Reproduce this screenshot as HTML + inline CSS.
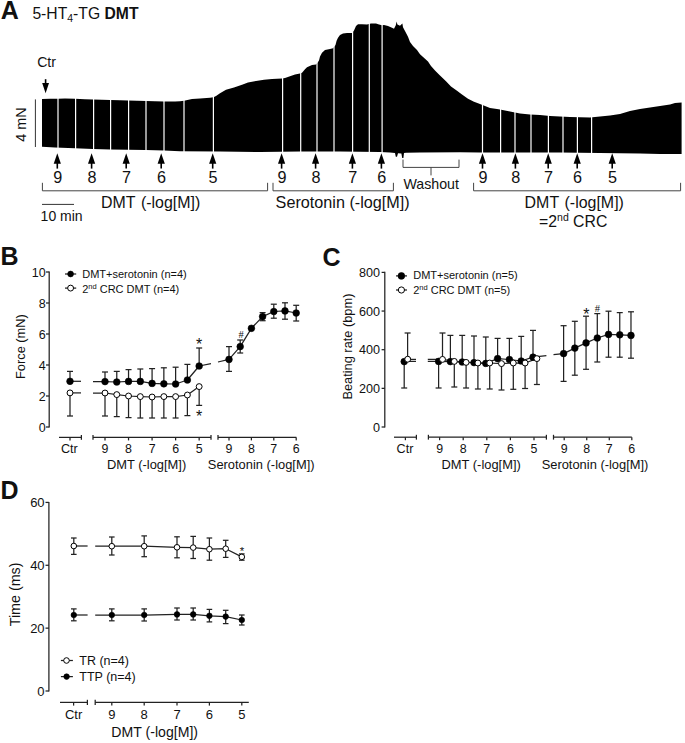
<!DOCTYPE html>
<html><head><meta charset="utf-8"><title>Figure</title>
<style>
html,body{margin:0;padding:0;background:#fff;}
body{width:685px;height:743px;overflow:hidden;}
svg{display:block;font-family:"Liberation Sans", sans-serif;}
text{fill:#111;}
</style></head>
<body>
<svg width="685" height="743" viewBox="0 0 685 743">
<rect width="685" height="743" fill="#fff"/>
<path d="M42,99 L50,98.8 L58,98.8 L65,98.6 L75,98.8 L85,99.2 L93,99.5 L102,99.8 L110,100 L120,100.2 L128,100.5 L137,100.8 L146,101 L155,101.2 L164,101.4 L175,101.5 L180,101.2 L184,100.8 L192,99.1 L200,98.4 L210,97.7 L213.5,97.2 L216,96 L220,93.3 L226,89.8 L234,87.4 L242,84.8 L248,82.5 L256,80.9 L264,79.7 L272,79 L282,78.5 L285,78.1 L290,76.2 L295,74.6 L300,73.4 L302,72.7 L305,69.2 L307,67.3 L312,65 L316,64.5 L318,62 L319,60.6 L320,56.4 L322,52.8 L325,50 L330,48.9 L333,48.2 L335.5,45 L336.6,40.7 L338,37.7 L340,35.1 L343,33.6 L347,33 L352,33 L354,30.4 L356,26 L358,24.3 L362,24.2 L367,24.6 L369,24 L371,23.4 L376,23.4 L379,24.6 L382,25.3 L384,24.9 L388,26 L392,27.8 L394,28.7 L395.8,25.3 L396.6,21.4 L397.4,24.6 L400,25.8 L401.8,24 L402.4,23.6 L403,27.3 L405,31 L408,36.8 L410,41.9 L413,46 L417,49.9 L420,54.3 L425,58.7 L428,61.6 L431,66 L435,70.4 L440,75.5 L446,81.3 L451,86.4 L457,90.8 L462,94.5 L468,98.8 L474,101.8 L480,104 L485,106.1 L490,108 L497,109 L500,109.6 L510,111.4 L520,113.6 L530,114.6 L540,115 L550,116 L560,116.6 L570,117 L580,117.3 L590,117.6 L600,116.6 L610,115.6 L620,114 L630,111 L640,109 L650,107.4 L660,106 L670,104.4 L675,103 L681.6,102.6 L681.6,154 L660,154 L640,153.6 L600,153 L560,152.6 L520,152.6 L480,152.4 L460,152.2 L420,152.6 L406,152.8 L404,153 L403.4,158 L402.2,158 L401.4,153.4 L398,153.2 L397,156.7 L395.8,156.7 L395,153 L390,152.4 L380,152 L340,151.6 L300,151.6 L260,152 L220,151.6 L180,151.2 L164,150.6 L146,150.1 L128,149.7 L110,149.4 L93,149 L75,148.2 L55,147.6 L42,146.8 Z" fill="#000"/>
<line x1="58" y1="18" x2="58" y2="158" stroke="#fff" stroke-width="1.2"/>
<line x1="75.6" y1="18" x2="75.6" y2="158" stroke="#fff" stroke-width="1.2"/>
<line x1="93.6" y1="18" x2="93.6" y2="158" stroke="#fff" stroke-width="1.2"/>
<line x1="110.6" y1="18" x2="110.6" y2="158" stroke="#fff" stroke-width="1.2"/>
<line x1="128.6" y1="18" x2="128.6" y2="158" stroke="#fff" stroke-width="1.2"/>
<line x1="146" y1="18" x2="146" y2="158" stroke="#fff" stroke-width="1.2"/>
<line x1="164" y1="18" x2="164" y2="158" stroke="#fff" stroke-width="1.2"/>
<line x1="184" y1="18" x2="184" y2="158" stroke="#fff" stroke-width="1.2"/>
<line x1="213.4" y1="18" x2="213.4" y2="158" stroke="#fff" stroke-width="1.2"/>
<line x1="282.6" y1="18" x2="282.6" y2="158" stroke="#fff" stroke-width="1.2"/>
<line x1="300.7" y1="18" x2="300.7" y2="158" stroke="#fff" stroke-width="1.2"/>
<line x1="317" y1="18" x2="317" y2="158" stroke="#fff" stroke-width="1.2"/>
<line x1="334" y1="18" x2="334" y2="158" stroke="#fff" stroke-width="1.2"/>
<line x1="352.6" y1="18" x2="352.6" y2="158" stroke="#fff" stroke-width="1.2"/>
<line x1="369.3" y1="18" x2="369.3" y2="158" stroke="#fff" stroke-width="1.2"/>
<line x1="382.1" y1="18" x2="382.1" y2="158" stroke="#fff" stroke-width="1.2"/>
<line x1="482.5" y1="18" x2="482.5" y2="158" stroke="#fff" stroke-width="1.2"/>
<line x1="500.6" y1="18" x2="500.6" y2="158" stroke="#fff" stroke-width="1.2"/>
<line x1="515" y1="18" x2="515" y2="158" stroke="#fff" stroke-width="1.2"/>
<line x1="531" y1="18" x2="531" y2="158" stroke="#fff" stroke-width="1.2"/>
<line x1="548.4" y1="18" x2="548.4" y2="158" stroke="#fff" stroke-width="1.2"/>
<line x1="563" y1="18" x2="563" y2="158" stroke="#fff" stroke-width="1.2"/>
<line x1="577.4" y1="18" x2="577.4" y2="158" stroke="#fff" stroke-width="1.2"/>
<line x1="591.6" y1="18" x2="591.6" y2="158" stroke="#fff" stroke-width="1.2"/>
<line x1="35.4" y1="99.4" x2="35.4" y2="147" stroke="#333" stroke-width="1"/>
<text transform="translate(26.3,124.6) rotate(-90)" font-size="14.4" text-anchor="middle">4 mN</text>
<text x="0.8" y="18.9" font-size="25" text-anchor="start" font-weight="bold" >A</text>
<text x="32.4" y="18.8" font-size="15.7">5-HT<tspan font-size="10.5" dy="3.2">4</tspan><tspan dy="-3.2">-TG </tspan><tspan font-weight="bold">DMT</tspan></text>
<text x="46.6" y="66.8" font-size="14.2" text-anchor="middle" font-weight="normal" >Ctr</text>
<line x1="45.6" y1="79.2" x2="45.6" y2="84" stroke="#000" stroke-width="1.6"/>
<path d="M42.2,83 L49,83 L45.6,93.2 Z" fill="#000"/>
<path d="M57.3,153.2 L60.9,163.8 L53.699999999999996,163.8 Z" fill="#000"/>
<line x1="57.3" y1="162" x2="57.3" y2="168.6" stroke="#000" stroke-width="1.6"/>
<text x="57.699999999999996" y="182.8" font-size="16.2" text-anchor="middle" font-weight="normal" >9</text>
<path d="M91.6,153.2 L95.19999999999999,163.8 L88.0,163.8 Z" fill="#000"/>
<line x1="91.6" y1="162" x2="91.6" y2="168.6" stroke="#000" stroke-width="1.6"/>
<text x="92.0" y="182.8" font-size="16.2" text-anchor="middle" font-weight="normal" >8</text>
<path d="M126.2,153.2 L129.8,163.8 L122.60000000000001,163.8 Z" fill="#000"/>
<line x1="126.2" y1="162" x2="126.2" y2="168.6" stroke="#000" stroke-width="1.6"/>
<text x="126.60000000000001" y="182.8" font-size="16.2" text-anchor="middle" font-weight="normal" >7</text>
<path d="M161.2,153.2 L164.79999999999998,163.8 L157.6,163.8 Z" fill="#000"/>
<line x1="161.2" y1="162" x2="161.2" y2="168.6" stroke="#000" stroke-width="1.6"/>
<text x="161.6" y="182.8" font-size="16.2" text-anchor="middle" font-weight="normal" >6</text>
<path d="M212.7,153.2 L216.29999999999998,163.8 L209.1,163.8 Z" fill="#000"/>
<line x1="212.7" y1="162" x2="212.7" y2="168.6" stroke="#000" stroke-width="1.6"/>
<text x="213.1" y="182.8" font-size="16.2" text-anchor="middle" font-weight="normal" >5</text>
<path d="M281.6,153.2 L285.20000000000005,163.8 L278.0,163.8 Z" fill="#000"/>
<line x1="281.6" y1="162" x2="281.6" y2="168.6" stroke="#000" stroke-width="1.6"/>
<text x="282.0" y="182.8" font-size="16.2" text-anchor="middle" font-weight="normal" >9</text>
<path d="M315.6,153.2 L319.20000000000005,163.8 L312.0,163.8 Z" fill="#000"/>
<line x1="315.6" y1="162" x2="315.6" y2="168.6" stroke="#000" stroke-width="1.6"/>
<text x="316.0" y="182.8" font-size="16.2" text-anchor="middle" font-weight="normal" >8</text>
<path d="M352.4,153.2 L356.0,163.8 L348.79999999999995,163.8 Z" fill="#000"/>
<line x1="352.4" y1="162" x2="352.4" y2="168.6" stroke="#000" stroke-width="1.6"/>
<text x="352.79999999999995" y="182.8" font-size="16.2" text-anchor="middle" font-weight="normal" >7</text>
<path d="M381.4,153.2 L385.0,163.8 L377.79999999999995,163.8 Z" fill="#000"/>
<line x1="381.4" y1="162" x2="381.4" y2="168.6" stroke="#000" stroke-width="1.6"/>
<text x="381.79999999999995" y="182.8" font-size="16.2" text-anchor="middle" font-weight="normal" >6</text>
<path d="M482.5,153.2 L486.1,163.8 L478.9,163.8 Z" fill="#000"/>
<line x1="482.5" y1="162" x2="482.5" y2="168.6" stroke="#000" stroke-width="1.6"/>
<text x="482.9" y="182.8" font-size="16.2" text-anchor="middle" font-weight="normal" >9</text>
<path d="M515.4,153.2 L519.0,163.8 L511.79999999999995,163.8 Z" fill="#000"/>
<line x1="515.4" y1="162" x2="515.4" y2="168.6" stroke="#000" stroke-width="1.6"/>
<text x="515.8" y="182.8" font-size="16.2" text-anchor="middle" font-weight="normal" >8</text>
<path d="M548.2,153.2 L551.8000000000001,163.8 L544.6,163.8 Z" fill="#000"/>
<line x1="548.2" y1="162" x2="548.2" y2="168.6" stroke="#000" stroke-width="1.6"/>
<text x="548.6" y="182.8" font-size="16.2" text-anchor="middle" font-weight="normal" >7</text>
<path d="M577.2,153.2 L580.8000000000001,163.8 L573.6,163.8 Z" fill="#000"/>
<line x1="577.2" y1="162" x2="577.2" y2="168.6" stroke="#000" stroke-width="1.6"/>
<text x="577.6" y="182.8" font-size="16.2" text-anchor="middle" font-weight="normal" >6</text>
<path d="M612.2,153.2 L615.8000000000001,163.8 L608.6,163.8 Z" fill="#000"/>
<line x1="612.2" y1="162" x2="612.2" y2="168.6" stroke="#000" stroke-width="1.6"/>
<text x="612.6" y="182.8" font-size="16.2" text-anchor="middle" font-weight="normal" >5</text>
<polyline points="42.4,182.8 42.4,190.8 267.6,190.8 267.6,182.8" fill="none" stroke="#444" stroke-width="1" stroke-linejoin="round"/>
<polyline points="273,182.8 273,190.8 393.4,190.8 393.4,182.8" fill="none" stroke="#444" stroke-width="1" stroke-linejoin="round"/>
<polyline points="473.6,182.8 473.6,190.8 680.6,190.8 680.6,182.8" fill="none" stroke="#444" stroke-width="1" stroke-linejoin="round"/>
<polyline points="403,159.6 403,167.4 459,167.4 459,159.6" fill="none" stroke="#444" stroke-width="1" stroke-linejoin="round"/>
<line x1="431" y1="167.4" x2="431" y2="175.4" stroke="#444" stroke-width="1"/>
<text x="431.2" y="188.6" font-size="14.2" text-anchor="middle" font-weight="normal" >Washout</text>
<text x="101" y="208.2" font-size="15.95" text-anchor="start" font-weight="normal" word-spacing="1.3">DMT (-log[M])</text>
<text x="275.6" y="208" font-size="16.2" text-anchor="start" font-weight="normal" >Serotonin (-log[M])</text>
<text x="524.6" y="208.2" font-size="15.95" text-anchor="start" font-weight="normal" word-spacing="1.3">DMT (-log[M])</text>
<text x="573.2" y="226.6" font-size="15.8" text-anchor="middle">=2<tspan font-size="10.5" dy="-5.5">nd</tspan><tspan dy="5.5"> CRC</tspan></text>
<line x1="42" y1="204.4" x2="74" y2="204.4" stroke="#333" stroke-width="1"/>
<text x="40.6" y="221.4" font-size="14" text-anchor="start" font-weight="normal" >10 min</text>
<text x="0.6" y="265.4" font-size="25" text-anchor="start" font-weight="bold" >B</text>
<line x1="49.2" y1="271.5" x2="49.2" y2="427.5" stroke="#222" stroke-width="1.25"/>
<line x1="46.0" y1="427.0" x2="49.2" y2="427.0" stroke="#222" stroke-width="1.25"/>
<text x="45.6" y="431.7" font-size="12.5" text-anchor="end" font-weight="normal" >0</text>
<line x1="46.0" y1="396.0" x2="49.2" y2="396.0" stroke="#222" stroke-width="1.25"/>
<text x="45.6" y="400.7" font-size="12.5" text-anchor="end" font-weight="normal" >2</text>
<line x1="46.0" y1="365.0" x2="49.2" y2="365.0" stroke="#222" stroke-width="1.25"/>
<text x="45.6" y="369.7" font-size="12.5" text-anchor="end" font-weight="normal" >4</text>
<line x1="46.0" y1="334.0" x2="49.2" y2="334.0" stroke="#222" stroke-width="1.25"/>
<text x="45.6" y="338.7" font-size="12.5" text-anchor="end" font-weight="normal" >6</text>
<line x1="46.0" y1="303.0" x2="49.2" y2="303.0" stroke="#222" stroke-width="1.25"/>
<text x="45.6" y="307.7" font-size="12.5" text-anchor="end" font-weight="normal" >8</text>
<line x1="46.0" y1="272.0" x2="49.2" y2="272.0" stroke="#222" stroke-width="1.25"/>
<text x="45.6" y="276.7" font-size="12.5" text-anchor="end" font-weight="normal" >10</text>
<text transform="translate(25,346.6) rotate(-90)" font-size="12.8" text-anchor="middle">Force (mN)</text>
<line x1="59" y1="437.4" x2="81.4" y2="437.4" stroke="#222" stroke-width="1.25"/>
<line x1="81.4" y1="435.0" x2="81.4" y2="439.79999999999995" stroke="#222" stroke-width="1.25"/>
<line x1="70" y1="437.4" x2="70" y2="440.4" stroke="#222" stroke-width="1.25"/>
<line x1="93" y1="437.4" x2="211" y2="437.4" stroke="#222" stroke-width="1.25"/>
<line x1="93" y1="435.0" x2="93" y2="439.79999999999995" stroke="#222" stroke-width="1.25"/>
<line x1="211" y1="435.0" x2="211" y2="439.79999999999995" stroke="#222" stroke-width="1.25"/>
<line x1="218" y1="437.4" x2="296.4" y2="437.4" stroke="#222" stroke-width="1.25"/>
<line x1="218" y1="435.0" x2="218" y2="439.79999999999995" stroke="#222" stroke-width="1.25"/>
<line x1="105.0" y1="437.4" x2="105.0" y2="440.4" stroke="#222" stroke-width="1.25"/>
<line x1="128.54" y1="437.4" x2="128.54" y2="440.4" stroke="#222" stroke-width="1.25"/>
<line x1="152.07999999999998" y1="437.4" x2="152.07999999999998" y2="440.4" stroke="#222" stroke-width="1.25"/>
<line x1="175.62" y1="437.4" x2="175.62" y2="440.4" stroke="#222" stroke-width="1.25"/>
<line x1="199.16" y1="437.4" x2="199.16" y2="440.4" stroke="#222" stroke-width="1.25"/>
<line x1="229.0" y1="437.4" x2="229.0" y2="440.4" stroke="#222" stroke-width="1.25"/>
<line x1="251.4" y1="437.4" x2="251.4" y2="440.4" stroke="#222" stroke-width="1.25"/>
<line x1="273.8" y1="437.4" x2="273.8" y2="440.4" stroke="#222" stroke-width="1.25"/>
<line x1="296.2" y1="437.4" x2="296.2" y2="440.4" stroke="#222" stroke-width="1.25"/>
<text x="69.4" y="453.2" font-size="12.6" text-anchor="middle" font-weight="normal" >Ctr</text>
<text x="105.0" y="453.2" font-size="12.4" text-anchor="middle" font-weight="normal" >9</text>
<text x="128.54" y="453.2" font-size="12.4" text-anchor="middle" font-weight="normal" >8</text>
<text x="152.07999999999998" y="453.2" font-size="12.4" text-anchor="middle" font-weight="normal" >7</text>
<text x="175.62" y="453.2" font-size="12.4" text-anchor="middle" font-weight="normal" >6</text>
<text x="199.16" y="453.2" font-size="12.4" text-anchor="middle" font-weight="normal" >5</text>
<text x="229.0" y="453.2" font-size="12.4" text-anchor="middle" font-weight="normal" >9</text>
<text x="251.4" y="453.2" font-size="12.4" text-anchor="middle" font-weight="normal" >8</text>
<text x="273.8" y="453.2" font-size="12.4" text-anchor="middle" font-weight="normal" >7</text>
<text x="296.2" y="453.2" font-size="12.4" text-anchor="middle" font-weight="normal" >6</text>
<text x="146.6" y="468.6" font-size="12.9" text-anchor="middle" font-weight="normal" >DMT (-log[M])</text>
<text x="261.2" y="468.6" font-size="12.9" text-anchor="middle" font-weight="normal" >Serotonin (-log[M])</text>
<line x1="70" y1="371.4" x2="70" y2="381.3" stroke="#222" stroke-width="1.25"/>
<line x1="67.0" y1="371.4" x2="73.0" y2="371.4" stroke="#222" stroke-width="1.25"/>
<line x1="70" y1="392.9" x2="70" y2="416" stroke="#222" stroke-width="1.25"/>
<line x1="67.0" y1="416" x2="73.0" y2="416" stroke="#222" stroke-width="1.25"/>
<line x1="105.0" y1="372" x2="105.0" y2="381.6" stroke="#222" stroke-width="1.25"/>
<line x1="102.0" y1="372" x2="108.0" y2="372" stroke="#222" stroke-width="1.25"/>
<line x1="116.77" y1="371.4" x2="116.77" y2="382" stroke="#222" stroke-width="1.25"/>
<line x1="113.77" y1="371.4" x2="119.77" y2="371.4" stroke="#222" stroke-width="1.25"/>
<line x1="128.54" y1="369.6" x2="128.54" y2="381.4" stroke="#222" stroke-width="1.25"/>
<line x1="125.53999999999999" y1="369.6" x2="131.54" y2="369.6" stroke="#222" stroke-width="1.25"/>
<line x1="140.31" y1="369" x2="140.31" y2="381.4" stroke="#222" stroke-width="1.25"/>
<line x1="137.31" y1="369" x2="143.31" y2="369" stroke="#222" stroke-width="1.25"/>
<line x1="152.07999999999998" y1="368.6" x2="152.07999999999998" y2="383.4" stroke="#222" stroke-width="1.25"/>
<line x1="149.07999999999998" y1="368.6" x2="155.07999999999998" y2="368.6" stroke="#222" stroke-width="1.25"/>
<line x1="163.85" y1="367.8" x2="163.85" y2="383.8" stroke="#222" stroke-width="1.25"/>
<line x1="160.85" y1="367.8" x2="166.85" y2="367.8" stroke="#222" stroke-width="1.25"/>
<line x1="175.62" y1="367.2" x2="175.62" y2="384" stroke="#222" stroke-width="1.25"/>
<line x1="172.62" y1="367.2" x2="178.62" y2="367.2" stroke="#222" stroke-width="1.25"/>
<line x1="187.39" y1="364.4" x2="187.39" y2="380" stroke="#222" stroke-width="1.25"/>
<line x1="184.39" y1="364.4" x2="190.39" y2="364.4" stroke="#222" stroke-width="1.25"/>
<line x1="199.16" y1="348" x2="199.16" y2="366" stroke="#222" stroke-width="1.25"/>
<line x1="196.16" y1="348" x2="202.16" y2="348" stroke="#222" stroke-width="1.25"/>
<line x1="105.0" y1="393" x2="105.0" y2="416" stroke="#222" stroke-width="1.25"/>
<line x1="102.0" y1="416" x2="108.0" y2="416" stroke="#222" stroke-width="1.25"/>
<line x1="116.77" y1="394.6" x2="116.77" y2="416.6" stroke="#222" stroke-width="1.25"/>
<line x1="113.77" y1="416.6" x2="119.77" y2="416.6" stroke="#222" stroke-width="1.25"/>
<line x1="128.54" y1="396" x2="128.54" y2="417.6" stroke="#222" stroke-width="1.25"/>
<line x1="125.53999999999999" y1="417.6" x2="131.54" y2="417.6" stroke="#222" stroke-width="1.25"/>
<line x1="140.31" y1="396.6" x2="140.31" y2="418" stroke="#222" stroke-width="1.25"/>
<line x1="137.31" y1="418" x2="143.31" y2="418" stroke="#222" stroke-width="1.25"/>
<line x1="152.07999999999998" y1="397" x2="152.07999999999998" y2="418" stroke="#222" stroke-width="1.25"/>
<line x1="149.07999999999998" y1="418" x2="155.07999999999998" y2="418" stroke="#222" stroke-width="1.25"/>
<line x1="163.85" y1="396.6" x2="163.85" y2="418" stroke="#222" stroke-width="1.25"/>
<line x1="160.85" y1="418" x2="166.85" y2="418" stroke="#222" stroke-width="1.25"/>
<line x1="175.62" y1="396.6" x2="175.62" y2="418" stroke="#222" stroke-width="1.25"/>
<line x1="172.62" y1="418" x2="178.62" y2="418" stroke="#222" stroke-width="1.25"/>
<line x1="187.39" y1="395" x2="187.39" y2="415.6" stroke="#222" stroke-width="1.25"/>
<line x1="184.39" y1="415.6" x2="190.39" y2="415.6" stroke="#222" stroke-width="1.25"/>
<line x1="199.16" y1="386.6" x2="199.16" y2="405.4" stroke="#222" stroke-width="1.25"/>
<line x1="196.16" y1="405.4" x2="202.16" y2="405.4" stroke="#222" stroke-width="1.25"/>
<line x1="229.0" y1="346.6" x2="229.0" y2="371.4" stroke="#222" stroke-width="1.25"/>
<line x1="226.0" y1="346.6" x2="232.0" y2="346.6" stroke="#222" stroke-width="1.25"/>
<line x1="226.0" y1="371.4" x2="232.0" y2="371.4" stroke="#222" stroke-width="1.25"/>
<line x1="240.2" y1="340" x2="240.2" y2="353" stroke="#222" stroke-width="1.25"/>
<line x1="237.2" y1="340" x2="243.2" y2="340" stroke="#222" stroke-width="1.25"/>
<line x1="237.2" y1="353" x2="243.2" y2="353" stroke="#222" stroke-width="1.25"/>
<line x1="262.6" y1="312.6" x2="262.6" y2="320.7" stroke="#222" stroke-width="1.25"/>
<line x1="259.6" y1="312.6" x2="265.6" y2="312.6" stroke="#222" stroke-width="1.25"/>
<line x1="259.6" y1="320.7" x2="265.6" y2="320.7" stroke="#222" stroke-width="1.25"/>
<line x1="273.8" y1="304.2" x2="273.8" y2="318.2" stroke="#222" stroke-width="1.25"/>
<line x1="270.8" y1="304.2" x2="276.8" y2="304.2" stroke="#222" stroke-width="1.25"/>
<line x1="270.8" y1="318.2" x2="276.8" y2="318.2" stroke="#222" stroke-width="1.25"/>
<line x1="285.0" y1="302.8" x2="285.0" y2="319.2" stroke="#222" stroke-width="1.25"/>
<line x1="282.0" y1="302.8" x2="288.0" y2="302.8" stroke="#222" stroke-width="1.25"/>
<line x1="282.0" y1="319.2" x2="288.0" y2="319.2" stroke="#222" stroke-width="1.25"/>
<line x1="296.2" y1="305.3" x2="296.2" y2="321" stroke="#222" stroke-width="1.25"/>
<line x1="293.2" y1="305.3" x2="299.2" y2="305.3" stroke="#222" stroke-width="1.25"/>
<line x1="293.2" y1="321" x2="299.2" y2="321" stroke="#222" stroke-width="1.25"/>
<polyline points="70,381.3 81,381.3" fill="none" stroke="#222" stroke-width="1.25" stroke-linejoin="round"/>
<polyline points="70,392.9 81,392.9" fill="none" stroke="#222" stroke-width="1.25" stroke-linejoin="round"/>
<polyline points="93,381.6 105.0,381.6 116.77,382 128.54,381.4 140.31,381.4 152.07999999999998,383.4 163.85,383.8 175.62,384 187.39,380 199.16,366 211,363.6" fill="none" stroke="#222" stroke-width="1.25" stroke-linejoin="round"/>
<polyline points="93,393 105.0,393 116.77,394.6 128.54,396 140.31,396.6 152.07999999999998,397 163.85,396.6 175.62,396.6 187.39,395 199.16,386.6" fill="none" stroke="#222" stroke-width="1.25" stroke-linejoin="round"/>
<polyline points="218,362 229.0,359.4 240.2,346.6 251.4,328.3 262.6,316.6 273.8,311.5 285.0,310.9 296.2,313" fill="none" stroke="#222" stroke-width="1.25" stroke-linejoin="round"/>
<circle cx="70" cy="381.3" r="3.35" fill="#000" stroke="#000" stroke-width="0.6"/>
<circle cx="70" cy="392.9" r="2.95" fill="#fff" stroke="#000" stroke-width="1"/>
<circle cx="105.0" cy="381.6" r="3.35" fill="#000" stroke="#000" stroke-width="0.6"/>
<circle cx="116.77" cy="382" r="3.35" fill="#000" stroke="#000" stroke-width="0.6"/>
<circle cx="128.54" cy="381.4" r="3.35" fill="#000" stroke="#000" stroke-width="0.6"/>
<circle cx="140.31" cy="381.4" r="3.35" fill="#000" stroke="#000" stroke-width="0.6"/>
<circle cx="152.07999999999998" cy="383.4" r="3.35" fill="#000" stroke="#000" stroke-width="0.6"/>
<circle cx="163.85" cy="383.8" r="3.35" fill="#000" stroke="#000" stroke-width="0.6"/>
<circle cx="175.62" cy="384" r="3.35" fill="#000" stroke="#000" stroke-width="0.6"/>
<circle cx="187.39" cy="380" r="3.35" fill="#000" stroke="#000" stroke-width="0.6"/>
<circle cx="199.16" cy="366" r="3.35" fill="#000" stroke="#000" stroke-width="0.6"/>
<circle cx="105.0" cy="393" r="2.95" fill="#fff" stroke="#000" stroke-width="1"/>
<circle cx="116.77" cy="394.6" r="2.95" fill="#fff" stroke="#000" stroke-width="1"/>
<circle cx="128.54" cy="396" r="2.95" fill="#fff" stroke="#000" stroke-width="1"/>
<circle cx="140.31" cy="396.6" r="2.95" fill="#fff" stroke="#000" stroke-width="1"/>
<circle cx="152.07999999999998" cy="397" r="2.95" fill="#fff" stroke="#000" stroke-width="1"/>
<circle cx="163.85" cy="396.6" r="2.95" fill="#fff" stroke="#000" stroke-width="1"/>
<circle cx="175.62" cy="396.6" r="2.95" fill="#fff" stroke="#000" stroke-width="1"/>
<circle cx="187.39" cy="395" r="2.95" fill="#fff" stroke="#000" stroke-width="1"/>
<circle cx="199.16" cy="386.6" r="2.95" fill="#fff" stroke="#000" stroke-width="1"/>
<circle cx="229.0" cy="359.4" r="3.35" fill="#000" stroke="#000" stroke-width="0.6"/>
<circle cx="240.2" cy="346.6" r="3.35" fill="#000" stroke="#000" stroke-width="0.6"/>
<circle cx="251.4" cy="328.3" r="3.35" fill="#000" stroke="#000" stroke-width="0.6"/>
<circle cx="262.6" cy="316.6" r="3.35" fill="#000" stroke="#000" stroke-width="0.6"/>
<circle cx="273.8" cy="311.5" r="3.35" fill="#000" stroke="#000" stroke-width="0.6"/>
<circle cx="285.0" cy="310.9" r="3.35" fill="#000" stroke="#000" stroke-width="0.6"/>
<circle cx="296.2" cy="313" r="3.35" fill="#000" stroke="#000" stroke-width="0.6"/>
<text x="199.2" y="350.2" font-size="16" text-anchor="middle" font-weight="normal" >*</text>
<text x="199.2" y="421.8" font-size="16" text-anchor="middle" font-weight="normal" >*</text>
<text x="241.2" y="337.6" font-size="10.5" text-anchor="middle" font-family="Liberation Serif">#</text>
<line x1="65" y1="274.0" x2="76.2" y2="274.0" stroke="#222" stroke-width="1.25"/>
<circle cx="70.6" cy="274.0" r="2.9" fill="#000" stroke="#000" stroke-width="0.6"/>
<line x1="65" y1="288.1" x2="76.2" y2="288.1" stroke="#222" stroke-width="1.25"/>
<circle cx="70.6" cy="288.1" r="2.95" fill="#fff" stroke="#000" stroke-width="1"/>
<text x="82.2" y="278.4" font-size="11" text-anchor="start" font-weight="normal" >DMT+serotonin (n=4)</text>
<text x="82.2" y="292.6" font-size="11">2<tspan font-size="7.5" dy="-4">nd</tspan><tspan dy="4"> CRC DMT (n=4)</tspan></text>
<text x="322.6" y="265.6" font-size="25" text-anchor="start" font-weight="bold" >C</text>
<line x1="384.8" y1="271.8" x2="384.8" y2="427.5" stroke="#222" stroke-width="1.25"/>
<line x1="381.6" y1="427.0" x2="384.8" y2="427.0" stroke="#222" stroke-width="1.25"/>
<text x="380.0" y="431.7" font-size="12.6" text-anchor="end" font-weight="normal" >0</text>
<line x1="381.6" y1="388.35" x2="384.8" y2="388.35" stroke="#222" stroke-width="1.25"/>
<text x="380.0" y="393.05" font-size="12.6" text-anchor="end" font-weight="normal" >200</text>
<line x1="381.6" y1="349.7" x2="384.8" y2="349.7" stroke="#222" stroke-width="1.25"/>
<text x="380.0" y="354.4" font-size="12.6" text-anchor="end" font-weight="normal" >400</text>
<line x1="381.6" y1="311.05" x2="384.8" y2="311.05" stroke="#222" stroke-width="1.25"/>
<text x="380.0" y="315.75" font-size="12.6" text-anchor="end" font-weight="normal" >600</text>
<line x1="381.6" y1="272.4" x2="384.8" y2="272.4" stroke="#222" stroke-width="1.25"/>
<text x="380.0" y="277.09999999999997" font-size="12.6" text-anchor="end" font-weight="normal" >800</text>
<text transform="translate(352.4,346.6) rotate(-90)" font-size="12.8" text-anchor="middle">Beating rate (bpm)</text>
<line x1="394" y1="437.2" x2="416.4" y2="437.2" stroke="#222" stroke-width="1.25"/>
<line x1="416.4" y1="434.8" x2="416.4" y2="439.59999999999997" stroke="#222" stroke-width="1.25"/>
<line x1="405.4" y1="437.2" x2="405.4" y2="440.2" stroke="#222" stroke-width="1.25"/>
<line x1="428.4" y1="437.2" x2="546.4" y2="437.2" stroke="#222" stroke-width="1.25"/>
<line x1="428.4" y1="434.8" x2="428.4" y2="439.59999999999997" stroke="#222" stroke-width="1.25"/>
<line x1="546.4" y1="434.8" x2="546.4" y2="439.59999999999997" stroke="#222" stroke-width="1.25"/>
<line x1="553.5" y1="437.2" x2="631.8" y2="437.2" stroke="#222" stroke-width="1.25"/>
<line x1="553.5" y1="434.8" x2="553.5" y2="439.59999999999997" stroke="#222" stroke-width="1.25"/>
<line x1="439.6" y1="437.2" x2="439.6" y2="440.2" stroke="#222" stroke-width="1.25"/>
<line x1="463.20000000000005" y1="437.2" x2="463.20000000000005" y2="440.2" stroke="#222" stroke-width="1.25"/>
<line x1="486.8" y1="437.2" x2="486.8" y2="440.2" stroke="#222" stroke-width="1.25"/>
<line x1="510.40000000000003" y1="437.2" x2="510.40000000000003" y2="440.2" stroke="#222" stroke-width="1.25"/>
<line x1="534.0" y1="437.2" x2="534.0" y2="440.2" stroke="#222" stroke-width="1.25"/>
<line x1="564.2" y1="437.2" x2="564.2" y2="440.2" stroke="#222" stroke-width="1.25"/>
<line x1="586.74" y1="437.2" x2="586.74" y2="440.2" stroke="#222" stroke-width="1.25"/>
<line x1="609.2800000000001" y1="437.2" x2="609.2800000000001" y2="440.2" stroke="#222" stroke-width="1.25"/>
<line x1="631.82" y1="437.2" x2="631.82" y2="440.2" stroke="#222" stroke-width="1.25"/>
<text x="405" y="453.2" font-size="12.6" text-anchor="middle" font-weight="normal" >Ctr</text>
<text x="439.6" y="453.2" font-size="12.4" text-anchor="middle" font-weight="normal" >9</text>
<text x="463.20000000000005" y="453.2" font-size="12.4" text-anchor="middle" font-weight="normal" >8</text>
<text x="486.8" y="453.2" font-size="12.4" text-anchor="middle" font-weight="normal" >7</text>
<text x="510.40000000000003" y="453.2" font-size="12.4" text-anchor="middle" font-weight="normal" >6</text>
<text x="534.0" y="453.2" font-size="12.4" text-anchor="middle" font-weight="normal" >5</text>
<text x="564.2" y="453.2" font-size="12.4" text-anchor="middle" font-weight="normal" >9</text>
<text x="586.74" y="453.2" font-size="12.4" text-anchor="middle" font-weight="normal" >8</text>
<text x="609.2800000000001" y="453.2" font-size="12.4" text-anchor="middle" font-weight="normal" >7</text>
<text x="631.82" y="453.2" font-size="12.4" text-anchor="middle" font-weight="normal" >6</text>
<text x="481.2" y="468.6" font-size="12.9" text-anchor="middle" font-weight="normal" >DMT (-log[M])</text>
<text x="595.0" y="468.6" font-size="12.9" text-anchor="middle" font-weight="normal" >Serotonin (-log[M])</text>
<line x1="404.2" y1="361.6" x2="404.2" y2="388" stroke="#222" stroke-width="1.25"/>
<line x1="401.2" y1="388" x2="407.2" y2="388" stroke="#222" stroke-width="1.25"/>
<line x1="407.6" y1="333" x2="407.6" y2="359.2" stroke="#222" stroke-width="1.25"/>
<line x1="404.6" y1="333" x2="410.6" y2="333" stroke="#222" stroke-width="1.25"/>
<line x1="438.6" y1="361.4" x2="438.6" y2="388" stroke="#222" stroke-width="1.25"/>
<line x1="435.6" y1="388" x2="441.6" y2="388" stroke="#222" stroke-width="1.25"/>
<line x1="450.40000000000003" y1="335.4" x2="450.40000000000003" y2="361.6" stroke="#222" stroke-width="1.25"/>
<line x1="447.40000000000003" y1="335.4" x2="453.40000000000003" y2="335.4" stroke="#222" stroke-width="1.25"/>
<line x1="462.20000000000005" y1="335.4" x2="462.20000000000005" y2="362" stroke="#222" stroke-width="1.25"/>
<line x1="459.20000000000005" y1="335.4" x2="465.20000000000005" y2="335.4" stroke="#222" stroke-width="1.25"/>
<line x1="474.0" y1="336" x2="474.0" y2="362.6" stroke="#222" stroke-width="1.25"/>
<line x1="471.0" y1="336" x2="477.0" y2="336" stroke="#222" stroke-width="1.25"/>
<line x1="485.8" y1="337" x2="485.8" y2="363.4" stroke="#222" stroke-width="1.25"/>
<line x1="482.8" y1="337" x2="488.8" y2="337" stroke="#222" stroke-width="1.25"/>
<line x1="497.6" y1="338.4" x2="497.6" y2="358.6" stroke="#222" stroke-width="1.25"/>
<line x1="494.6" y1="338.4" x2="500.6" y2="338.4" stroke="#222" stroke-width="1.25"/>
<line x1="509.40000000000003" y1="338.4" x2="509.40000000000003" y2="359.5" stroke="#222" stroke-width="1.25"/>
<line x1="506.40000000000003" y1="338.4" x2="512.4000000000001" y2="338.4" stroke="#222" stroke-width="1.25"/>
<line x1="521.2" y1="336.4" x2="521.2" y2="361" stroke="#222" stroke-width="1.25"/>
<line x1="518.2" y1="336.4" x2="524.2" y2="336.4" stroke="#222" stroke-width="1.25"/>
<line x1="533.0" y1="330.4" x2="533.0" y2="357.2" stroke="#222" stroke-width="1.25"/>
<line x1="530.0" y1="330.4" x2="536.0" y2="330.4" stroke="#222" stroke-width="1.25"/>
<line x1="442.5" y1="333" x2="442.5" y2="359.4" stroke="#222" stroke-width="1.25"/>
<line x1="439.5" y1="333" x2="445.5" y2="333" stroke="#222" stroke-width="1.25"/>
<line x1="454.3" y1="361.4" x2="454.3" y2="387" stroke="#222" stroke-width="1.25"/>
<line x1="451.3" y1="387" x2="457.3" y2="387" stroke="#222" stroke-width="1.25"/>
<line x1="466.1" y1="362.4" x2="466.1" y2="388" stroke="#222" stroke-width="1.25"/>
<line x1="463.1" y1="388" x2="469.1" y2="388" stroke="#222" stroke-width="1.25"/>
<line x1="477.9" y1="363" x2="477.9" y2="389" stroke="#222" stroke-width="1.25"/>
<line x1="474.9" y1="389" x2="480.9" y2="389" stroke="#222" stroke-width="1.25"/>
<line x1="489.7" y1="363" x2="489.7" y2="389" stroke="#222" stroke-width="1.25"/>
<line x1="486.7" y1="389" x2="492.7" y2="389" stroke="#222" stroke-width="1.25"/>
<line x1="501.5" y1="363.6" x2="501.5" y2="390" stroke="#222" stroke-width="1.25"/>
<line x1="498.5" y1="390" x2="504.5" y2="390" stroke="#222" stroke-width="1.25"/>
<line x1="513.3" y1="363" x2="513.3" y2="389.3" stroke="#222" stroke-width="1.25"/>
<line x1="510.29999999999995" y1="389.3" x2="516.3" y2="389.3" stroke="#222" stroke-width="1.25"/>
<line x1="525.1" y1="363" x2="525.1" y2="388.5" stroke="#222" stroke-width="1.25"/>
<line x1="522.1" y1="388.5" x2="528.1" y2="388.5" stroke="#222" stroke-width="1.25"/>
<line x1="536.9" y1="358.6" x2="536.9" y2="384.5" stroke="#222" stroke-width="1.25"/>
<line x1="533.9" y1="384.5" x2="539.9" y2="384.5" stroke="#222" stroke-width="1.25"/>
<line x1="563.6" y1="325.7" x2="563.6" y2="381.4" stroke="#222" stroke-width="1.25"/>
<line x1="560.6" y1="325.7" x2="566.6" y2="325.7" stroke="#222" stroke-width="1.25"/>
<line x1="560.6" y1="381.4" x2="566.6" y2="381.4" stroke="#222" stroke-width="1.25"/>
<line x1="574.83" y1="321.3" x2="574.83" y2="375.2" stroke="#222" stroke-width="1.25"/>
<line x1="571.83" y1="321.3" x2="577.83" y2="321.3" stroke="#222" stroke-width="1.25"/>
<line x1="571.83" y1="375.2" x2="577.83" y2="375.2" stroke="#222" stroke-width="1.25"/>
<line x1="586.0600000000001" y1="316.2" x2="586.0600000000001" y2="369.3" stroke="#222" stroke-width="1.25"/>
<line x1="583.0600000000001" y1="316.2" x2="589.0600000000001" y2="316.2" stroke="#222" stroke-width="1.25"/>
<line x1="583.0600000000001" y1="369.3" x2="589.0600000000001" y2="369.3" stroke="#222" stroke-width="1.25"/>
<line x1="597.29" y1="313.6" x2="597.29" y2="362" stroke="#222" stroke-width="1.25"/>
<line x1="594.29" y1="313.6" x2="600.29" y2="313.6" stroke="#222" stroke-width="1.25"/>
<line x1="594.29" y1="362" x2="600.29" y2="362" stroke="#222" stroke-width="1.25"/>
<line x1="608.52" y1="311.2" x2="608.52" y2="357.2" stroke="#222" stroke-width="1.25"/>
<line x1="605.52" y1="311.2" x2="611.52" y2="311.2" stroke="#222" stroke-width="1.25"/>
<line x1="605.52" y1="357.2" x2="611.52" y2="357.2" stroke="#222" stroke-width="1.25"/>
<line x1="619.75" y1="312.6" x2="619.75" y2="357.2" stroke="#222" stroke-width="1.25"/>
<line x1="616.75" y1="312.6" x2="622.75" y2="312.6" stroke="#222" stroke-width="1.25"/>
<line x1="616.75" y1="357.2" x2="622.75" y2="357.2" stroke="#222" stroke-width="1.25"/>
<line x1="630.98" y1="311.8" x2="630.98" y2="358.2" stroke="#222" stroke-width="1.25"/>
<line x1="627.98" y1="311.8" x2="633.98" y2="311.8" stroke="#222" stroke-width="1.25"/>
<line x1="627.98" y1="358.2" x2="633.98" y2="358.2" stroke="#222" stroke-width="1.25"/>
<polyline points="404.2,361.4 416,361.4" fill="none" stroke="#222" stroke-width="1.25" stroke-linejoin="round"/>
<polyline points="407.6,359.4 416,359.4" fill="none" stroke="#222" stroke-width="1.25" stroke-linejoin="round"/>
<polyline points="427.8,361.4 438.6,361.4 450.40000000000003,361.6 462.20000000000005,362 474.0,362.6 485.8,363.4 497.6,358.6 509.40000000000003,359.5 521.2,361 533.0,357.2 546.4,355.6" fill="none" stroke="#222" stroke-width="1.25" stroke-linejoin="round"/>
<polyline points="427.8,359.4 442.5,359.4 454.3,361.4 466.1,362.4 477.9,363 489.7,363 501.5,363.6 513.3,363 525.1,363 536.9,358.6" fill="none" stroke="#222" stroke-width="1.25" stroke-linejoin="round"/>
<polyline points="553.5,354.6 563.6,353.6 574.83,348.1 586.0600000000001,342.9 597.29,338 608.52,334.4 619.75,334.8 630.98,335.4" fill="none" stroke="#222" stroke-width="1.25" stroke-linejoin="round"/>
<circle cx="404.2" cy="361.6" r="3.35" fill="#000" stroke="#000" stroke-width="0.6"/>
<circle cx="407.7" cy="359.2" r="2.95" fill="#fff" stroke="#000" stroke-width="1"/>
<circle cx="438.6" cy="361.4" r="3.35" fill="#000" stroke="#000" stroke-width="0.6"/>
<circle cx="442.5" cy="359.4" r="2.95" fill="#fff" stroke="#000" stroke-width="1"/>
<circle cx="450.40000000000003" cy="361.6" r="3.35" fill="#000" stroke="#000" stroke-width="0.6"/>
<circle cx="454.3" cy="361.4" r="2.95" fill="#fff" stroke="#000" stroke-width="1"/>
<circle cx="462.20000000000005" cy="362" r="3.35" fill="#000" stroke="#000" stroke-width="0.6"/>
<circle cx="466.1" cy="362.4" r="2.95" fill="#fff" stroke="#000" stroke-width="1"/>
<circle cx="474.0" cy="362.6" r="3.35" fill="#000" stroke="#000" stroke-width="0.6"/>
<circle cx="477.9" cy="363" r="2.95" fill="#fff" stroke="#000" stroke-width="1"/>
<circle cx="485.8" cy="363.4" r="3.35" fill="#000" stroke="#000" stroke-width="0.6"/>
<circle cx="489.7" cy="363" r="2.95" fill="#fff" stroke="#000" stroke-width="1"/>
<circle cx="497.6" cy="358.6" r="3.35" fill="#000" stroke="#000" stroke-width="0.6"/>
<circle cx="501.5" cy="363.6" r="2.95" fill="#fff" stroke="#000" stroke-width="1"/>
<circle cx="509.40000000000003" cy="359.5" r="3.35" fill="#000" stroke="#000" stroke-width="0.6"/>
<circle cx="513.3" cy="363" r="2.95" fill="#fff" stroke="#000" stroke-width="1"/>
<circle cx="521.2" cy="361" r="3.35" fill="#000" stroke="#000" stroke-width="0.6"/>
<circle cx="525.1" cy="363" r="2.95" fill="#fff" stroke="#000" stroke-width="1"/>
<circle cx="533.0" cy="357.2" r="3.35" fill="#000" stroke="#000" stroke-width="0.6"/>
<circle cx="536.9" cy="358.6" r="2.95" fill="#fff" stroke="#000" stroke-width="1"/>
<circle cx="563.6" cy="353.6" r="3.35" fill="#000" stroke="#000" stroke-width="0.6"/>
<circle cx="574.83" cy="348.1" r="3.35" fill="#000" stroke="#000" stroke-width="0.6"/>
<circle cx="586.0600000000001" cy="342.9" r="3.35" fill="#000" stroke="#000" stroke-width="0.6"/>
<circle cx="597.29" cy="338" r="3.35" fill="#000" stroke="#000" stroke-width="0.6"/>
<circle cx="608.52" cy="334.4" r="3.35" fill="#000" stroke="#000" stroke-width="0.6"/>
<circle cx="619.75" cy="334.8" r="3.35" fill="#000" stroke="#000" stroke-width="0.6"/>
<circle cx="630.98" cy="335.4" r="3.35" fill="#000" stroke="#000" stroke-width="0.6"/>
<text x="586.4" y="319.6" font-size="16" text-anchor="middle" font-weight="normal" >*</text>
<text x="597.4" y="312" font-size="10.5" text-anchor="middle" font-family="Liberation Serif">#</text>
<line x1="396" y1="275.9" x2="407" y2="275.9" stroke="#222" stroke-width="1.25"/>
<circle cx="401.4" cy="275.9" r="3.4" fill="#000" stroke="#000" stroke-width="0.6"/>
<line x1="396" y1="290" x2="407" y2="290" stroke="#222" stroke-width="1.25"/>
<circle cx="401.4" cy="290" r="3.1" fill="#fff" stroke="#000" stroke-width="1"/>
<text x="413.2" y="279.4" font-size="11" text-anchor="start" font-weight="normal" >DMT+serotonin (n=5)</text>
<text x="413.2" y="293.8" font-size="11">2<tspan font-size="7.5" dy="-4">nd</tspan><tspan dy="4"> CRC DMT (n=5)</tspan></text>
<text x="0.6" y="499.4" font-size="25" text-anchor="start" font-weight="bold" >D</text>
<line x1="48.9" y1="502" x2="48.9" y2="691.5" stroke="#222" stroke-width="1.25"/>
<line x1="45.5" y1="691.0" x2="48.9" y2="691.0" stroke="#222" stroke-width="1.25"/>
<text x="44.6" y="695.9" font-size="13" text-anchor="end" font-weight="normal" >0</text>
<line x1="45.5" y1="628.14" x2="48.9" y2="628.14" stroke="#222" stroke-width="1.25"/>
<text x="44.6" y="633.04" font-size="13" text-anchor="end" font-weight="normal" >20</text>
<line x1="45.5" y1="565.28" x2="48.9" y2="565.28" stroke="#222" stroke-width="1.25"/>
<text x="44.6" y="570.18" font-size="13" text-anchor="end" font-weight="normal" >40</text>
<line x1="45.5" y1="502.42" x2="48.9" y2="502.42" stroke="#222" stroke-width="1.25"/>
<text x="44.6" y="507.32" font-size="13" text-anchor="end" font-weight="normal" >60</text>
<text transform="translate(19.6,594.4) rotate(-90)" font-size="14.3" text-anchor="middle">Time (ms)</text>
<line x1="60" y1="702.4" x2="87.4" y2="702.4" stroke="#222" stroke-width="1.25"/>
<line x1="87.4" y1="699.8" x2="87.4" y2="705.0" stroke="#222" stroke-width="1.25"/>
<line x1="73.6" y1="702.4" x2="73.6" y2="705.6" stroke="#222" stroke-width="1.25"/>
<line x1="95.2" y1="702.4" x2="248.8" y2="702.4" stroke="#222" stroke-width="1.25"/>
<line x1="95.2" y1="699.8" x2="95.2" y2="705.0" stroke="#222" stroke-width="1.25"/>
<line x1="111.8" y1="702.4" x2="111.8" y2="705.6" stroke="#222" stroke-width="1.25"/>
<line x1="144.2" y1="702.4" x2="144.2" y2="705.6" stroke="#222" stroke-width="1.25"/>
<line x1="177" y1="702.4" x2="177" y2="705.6" stroke="#222" stroke-width="1.25"/>
<line x1="209.4" y1="702.4" x2="209.4" y2="705.6" stroke="#222" stroke-width="1.25"/>
<line x1="241.8" y1="702.4" x2="241.8" y2="705.6" stroke="#222" stroke-width="1.25"/>
<text x="73.6" y="718.6" font-size="13" text-anchor="middle" font-weight="normal" >Ctr</text>
<text x="111.8" y="718.6" font-size="13" text-anchor="middle" font-weight="normal" >9</text>
<text x="144.2" y="718.6" font-size="13" text-anchor="middle" font-weight="normal" >8</text>
<text x="177" y="718.6" font-size="13" text-anchor="middle" font-weight="normal" >7</text>
<text x="209.4" y="718.6" font-size="13" text-anchor="middle" font-weight="normal" >6</text>
<text x="241.8" y="718.6" font-size="13" text-anchor="middle" font-weight="normal" >5</text>
<text x="154.7" y="737.2" font-size="14.1" text-anchor="middle" font-weight="normal" >DMT (-log[M])</text>
<line x1="73.8" y1="538" x2="73.8" y2="554.4" stroke="#222" stroke-width="1.25"/>
<line x1="71.0" y1="538" x2="76.6" y2="538" stroke="#222" stroke-width="1.25"/>
<line x1="71.0" y1="554.4" x2="76.6" y2="554.4" stroke="#222" stroke-width="1.25"/>
<line x1="73.8" y1="608.9" x2="73.8" y2="620.8" stroke="#222" stroke-width="1.25"/>
<line x1="71.0" y1="608.9" x2="76.6" y2="608.9" stroke="#222" stroke-width="1.25"/>
<line x1="71.0" y1="620.8" x2="76.6" y2="620.8" stroke="#222" stroke-width="1.25"/>
<line x1="111.8" y1="537" x2="111.8" y2="555" stroke="#222" stroke-width="1.25"/>
<line x1="109.0" y1="537" x2="114.6" y2="537" stroke="#222" stroke-width="1.25"/>
<line x1="109.0" y1="555" x2="114.6" y2="555" stroke="#222" stroke-width="1.25"/>
<line x1="144.2" y1="535.9" x2="144.2" y2="556.7" stroke="#222" stroke-width="1.25"/>
<line x1="141.39999999999998" y1="535.9" x2="147.0" y2="535.9" stroke="#222" stroke-width="1.25"/>
<line x1="141.39999999999998" y1="556.7" x2="147.0" y2="556.7" stroke="#222" stroke-width="1.25"/>
<line x1="177" y1="536.8" x2="177" y2="557.8" stroke="#222" stroke-width="1.25"/>
<line x1="174.2" y1="536.8" x2="179.8" y2="536.8" stroke="#222" stroke-width="1.25"/>
<line x1="174.2" y1="557.8" x2="179.8" y2="557.8" stroke="#222" stroke-width="1.25"/>
<line x1="193.2" y1="536.4" x2="193.2" y2="558.5" stroke="#222" stroke-width="1.25"/>
<line x1="190.39999999999998" y1="536.4" x2="196.0" y2="536.4" stroke="#222" stroke-width="1.25"/>
<line x1="190.39999999999998" y1="558.5" x2="196.0" y2="558.5" stroke="#222" stroke-width="1.25"/>
<line x1="209.4" y1="538" x2="209.4" y2="560.2" stroke="#222" stroke-width="1.25"/>
<line x1="206.6" y1="538" x2="212.20000000000002" y2="538" stroke="#222" stroke-width="1.25"/>
<line x1="206.6" y1="560.2" x2="212.20000000000002" y2="560.2" stroke="#222" stroke-width="1.25"/>
<line x1="225.7" y1="540.3" x2="225.7" y2="557.4" stroke="#222" stroke-width="1.25"/>
<line x1="222.89999999999998" y1="540.3" x2="228.5" y2="540.3" stroke="#222" stroke-width="1.25"/>
<line x1="222.89999999999998" y1="557.4" x2="228.5" y2="557.4" stroke="#222" stroke-width="1.25"/>
<line x1="241.8" y1="553.9" x2="241.8" y2="560.2" stroke="#222" stroke-width="1.25"/>
<line x1="239.0" y1="553.9" x2="244.60000000000002" y2="553.9" stroke="#222" stroke-width="1.25"/>
<line x1="239.0" y1="560.2" x2="244.60000000000002" y2="560.2" stroke="#222" stroke-width="1.25"/>
<line x1="111.8" y1="608.9" x2="111.8" y2="620.8" stroke="#222" stroke-width="1.25"/>
<line x1="109.0" y1="608.9" x2="114.6" y2="608.9" stroke="#222" stroke-width="1.25"/>
<line x1="109.0" y1="620.8" x2="114.6" y2="620.8" stroke="#222" stroke-width="1.25"/>
<line x1="144.2" y1="608.9" x2="144.2" y2="621" stroke="#222" stroke-width="1.25"/>
<line x1="141.39999999999998" y1="608.9" x2="147.0" y2="608.9" stroke="#222" stroke-width="1.25"/>
<line x1="141.39999999999998" y1="621" x2="147.0" y2="621" stroke="#222" stroke-width="1.25"/>
<line x1="177" y1="608" x2="177" y2="620" stroke="#222" stroke-width="1.25"/>
<line x1="174.2" y1="608" x2="179.8" y2="608" stroke="#222" stroke-width="1.25"/>
<line x1="174.2" y1="620" x2="179.8" y2="620" stroke="#222" stroke-width="1.25"/>
<line x1="193.2" y1="608" x2="193.2" y2="620" stroke="#222" stroke-width="1.25"/>
<line x1="190.39999999999998" y1="608" x2="196.0" y2="608" stroke="#222" stroke-width="1.25"/>
<line x1="190.39999999999998" y1="620" x2="196.0" y2="620" stroke="#222" stroke-width="1.25"/>
<line x1="209.4" y1="609.4" x2="209.4" y2="621.9" stroke="#222" stroke-width="1.25"/>
<line x1="206.6" y1="609.4" x2="212.20000000000002" y2="609.4" stroke="#222" stroke-width="1.25"/>
<line x1="206.6" y1="621.9" x2="212.20000000000002" y2="621.9" stroke="#222" stroke-width="1.25"/>
<line x1="225.7" y1="610.3" x2="225.7" y2="623.6" stroke="#222" stroke-width="1.25"/>
<line x1="222.89999999999998" y1="610.3" x2="228.5" y2="610.3" stroke="#222" stroke-width="1.25"/>
<line x1="222.89999999999998" y1="623.6" x2="228.5" y2="623.6" stroke="#222" stroke-width="1.25"/>
<line x1="241.8" y1="615" x2="241.8" y2="625" stroke="#222" stroke-width="1.25"/>
<line x1="239.0" y1="615" x2="244.60000000000002" y2="615" stroke="#222" stroke-width="1.25"/>
<line x1="239.0" y1="625" x2="244.60000000000002" y2="625" stroke="#222" stroke-width="1.25"/>
<polyline points="73.8,546 87.6,546" fill="none" stroke="#222" stroke-width="1.25" stroke-linejoin="round"/>
<polyline points="73.8,615 87.6,615" fill="none" stroke="#222" stroke-width="1.25" stroke-linejoin="round"/>
<polyline points="95.2,546.2 111.8,546.2 144.2,546.2 177,547.3 193.2,547.6 209.4,549.2 225.7,548.7 241.8,556.9" fill="none" stroke="#222" stroke-width="1.25" stroke-linejoin="round"/>
<polyline points="95.2,615 111.8,615 144.2,615 177,614.4 193.2,614.4 209.4,615.8 225.7,616.6 241.8,620" fill="none" stroke="#222" stroke-width="1.25" stroke-linejoin="round"/>
<circle cx="73.8" cy="546" r="2.8000000000000003" fill="#fff" stroke="#000" stroke-width="1"/>
<circle cx="73.8" cy="615" r="2.8" fill="#000" stroke="#000" stroke-width="0.6"/>
<circle cx="111.8" cy="546.2" r="2.8000000000000003" fill="#fff" stroke="#000" stroke-width="1"/>
<circle cx="144.2" cy="546.2" r="2.8000000000000003" fill="#fff" stroke="#000" stroke-width="1"/>
<circle cx="177" cy="547.3" r="2.8000000000000003" fill="#fff" stroke="#000" stroke-width="1"/>
<circle cx="193.2" cy="547.6" r="2.8000000000000003" fill="#fff" stroke="#000" stroke-width="1"/>
<circle cx="209.4" cy="549.2" r="2.8000000000000003" fill="#fff" stroke="#000" stroke-width="1"/>
<circle cx="225.7" cy="548.7" r="2.8000000000000003" fill="#fff" stroke="#000" stroke-width="1"/>
<circle cx="241.8" cy="556.9" r="2.8000000000000003" fill="#fff" stroke="#000" stroke-width="1"/>
<circle cx="111.8" cy="615" r="2.8" fill="#000" stroke="#000" stroke-width="0.6"/>
<circle cx="144.2" cy="615" r="2.8" fill="#000" stroke="#000" stroke-width="0.6"/>
<circle cx="177" cy="614.4" r="2.8" fill="#000" stroke="#000" stroke-width="0.6"/>
<circle cx="193.2" cy="614.4" r="2.8" fill="#000" stroke="#000" stroke-width="0.6"/>
<circle cx="209.4" cy="615.8" r="2.8" fill="#000" stroke="#000" stroke-width="0.6"/>
<circle cx="225.7" cy="616.6" r="2.8" fill="#000" stroke="#000" stroke-width="0.6"/>
<circle cx="241.8" cy="620" r="2.8" fill="#000" stroke="#000" stroke-width="0.6"/>
<text x="242.1" y="555.2" font-size="11.5" text-anchor="middle" font-weight="normal" >*</text>
<line x1="60.9" y1="660.5" x2="72.9" y2="660.5" stroke="#222" stroke-width="1.25"/>
<circle cx="66.5" cy="660.5" r="2.8000000000000003" fill="#fff" stroke="#000" stroke-width="1"/>
<line x1="60.9" y1="676.6" x2="72.9" y2="676.6" stroke="#222" stroke-width="1.25"/>
<circle cx="66.6" cy="676.6" r="2.8" fill="#000" stroke="#000" stroke-width="0.6"/>
<text x="79.3" y="665" font-size="12.5" text-anchor="start" font-weight="normal" >TR (n=4)</text>
<text x="79.3" y="681.2" font-size="12.5" text-anchor="start" font-weight="normal" >TTP (n=4)</text>
</svg>
</body></html>
